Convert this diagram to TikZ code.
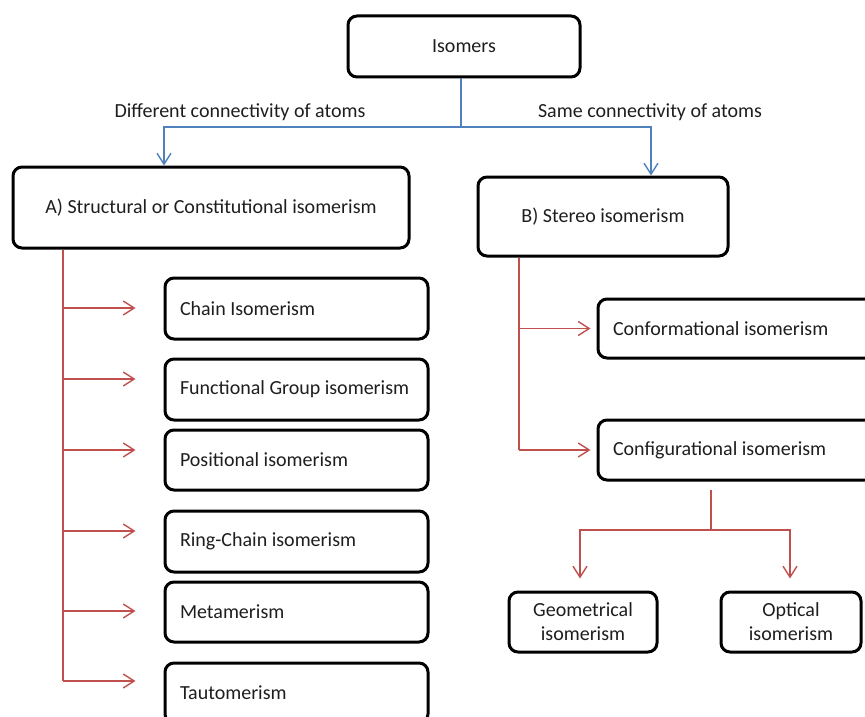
\documentclass[tikz,border=0pt]{standalone}
\usepackage{fontspec}
\setmainfont{Carlito}
\usetikzlibrary{arrows.meta}
\definecolor{linkblue}{RGB}{79,129,189}
\definecolor{linkred}{RGB}{192,80,77}
\definecolor{txt}{RGB}{30,30,30}
\newcommand{\lefttext}[2]{\makebox[#1][l]{#2}}
\begin{document}
\begin{tikzpicture}[x=1pt,y=-1pt,
  font=\fontsize{20}{24}\selectfont,
  every node/.style={text=txt},
  box/.style={draw=black,line width=3pt,rounded corners=9pt,inner sep=0pt,align=center},
  lbox/.style={box,minimum width=#1},
  bluearrow/.style={draw=linkblue,line width=1.4pt,-{Straight Barb[length=11pt,width=14pt,line width=1.4pt]}},
  blueline/.style={draw=linkblue,line width=1.4pt},
  redarrow/.style={draw=linkred,line width=1.4pt,-{Straight Barb[length=11pt,width=14pt,line width=1.4pt]}},
  redline/.style={draw=linkred,line width=1.4pt},
  lbl/.style={inner sep=0pt}]
\useasboundingbox (0,0) rectangle (865,717);
\clip (0,0) rectangle (865,717);

% main boxes
\node[box,minimum width=232pt,minimum height=61pt] (iso) at (464,46.5) {Isomers};
\node[box,minimum width=396pt,minimum height=81pt] (A) at (211,207.5) {A) Structural or Constitutional isomerism};
\node[box,minimum width=250pt,minimum height=79pt] (B) at (603,216.5) {B) Stereo isomerism};

\node[lbl] (ldiff) at (240,112) {Different connectivity of atoms};
\node[lbl] (lsame) at (650,112) {Same connectivity of atoms};

% structural children
\node[lbox=263pt,minimum height=61pt] (chain) at (296.5,308.5) {\lefttext{233pt}{Chain Isomerism}};
\node[lbox=263pt,minimum height=61pt] (func) at (296.5,389.5) {\lefttext{233pt}{Functional Group isomerism}};
\node[lbox=263pt,minimum height=60pt] (pos) at (296.5,460) {\lefttext{233pt}{Positional isomerism}};
\node[lbox=263pt,minimum height=61pt] (ring) at (296.5,541.5) {\lefttext{233pt}{Ring-Chain isomerism}};
\node[lbox=263pt,minimum height=60pt] (meta) at (296.5,612) {\lefttext{233pt}{Metamerism}};
\node[lbox=263pt,minimum height=60pt] (taut) at (296.5,693) {\lefttext{233pt}{Tautomerism}};

% stereo children
\node[lbox=282pt,minimum height=59pt] (conf) at (739,328.5) {\lefttext{252pt}{Conformational isomerism}};
\node[lbox=282pt,minimum height=60pt] (cfg) at (739,450) {\lefttext{252pt}{Configurational isomerism}};
\node[box,minimum width=148pt,minimum height=60pt] (geo) at (583,622) {Geometrical\\isomerism};
\node[box,minimum width=140pt,minimum height=60pt] (opt) at (791,622) {Optical\\isomerism};

% blue connectors
\coordinate (jc) at (461,127);
\coordinate (jl) at (164,127);
\coordinate (jr) at (651,127);
\draw[blueline] (iso.south -| jc) -- (jc);
\draw[bluearrow] (jc) -- (jl) -- (jl |- A.north);
\draw[bluearrow] (jc) -- (jr) -- (jr |- B.north);

% red trunk for structural
\coordinate (ta) at (63,681);
\draw[redline] (A.south -| ta) -- (ta);
\foreach \n/\y in {chain/308,func/379,pos/450,ring/531,meta/611,taut/681}{
  \draw[redarrow] (63,\y) -- ([xshift=-28pt]\n.west |- 63,\y);
}

% red trunk for stereo
\coordinate (tb) at (519,450);
\draw[redline] (B.south -| tb) -- (tb);
\draw[redarrow] (conf.west -| tb) -- ([xshift=-6pt]conf.west);
\draw[redarrow] (tb) -- ([xshift=-6pt]cfg.west);

% configurational split
\coordinate (cs) at (711,490);
\coordinate (cm) at (711,530);
\coordinate (cl) at (580,530);
\coordinate (cr) at (790,530);
\draw[redline] (cs) -- (cm);
\draw[redarrow] (cm) -- (cl) -- ([yshift=12pt]cl |- geo.north);
\draw[redarrow] (cm) -- (cr) -- ([yshift=12pt]cr |- opt.north);
\end{tikzpicture}
\end{document}
